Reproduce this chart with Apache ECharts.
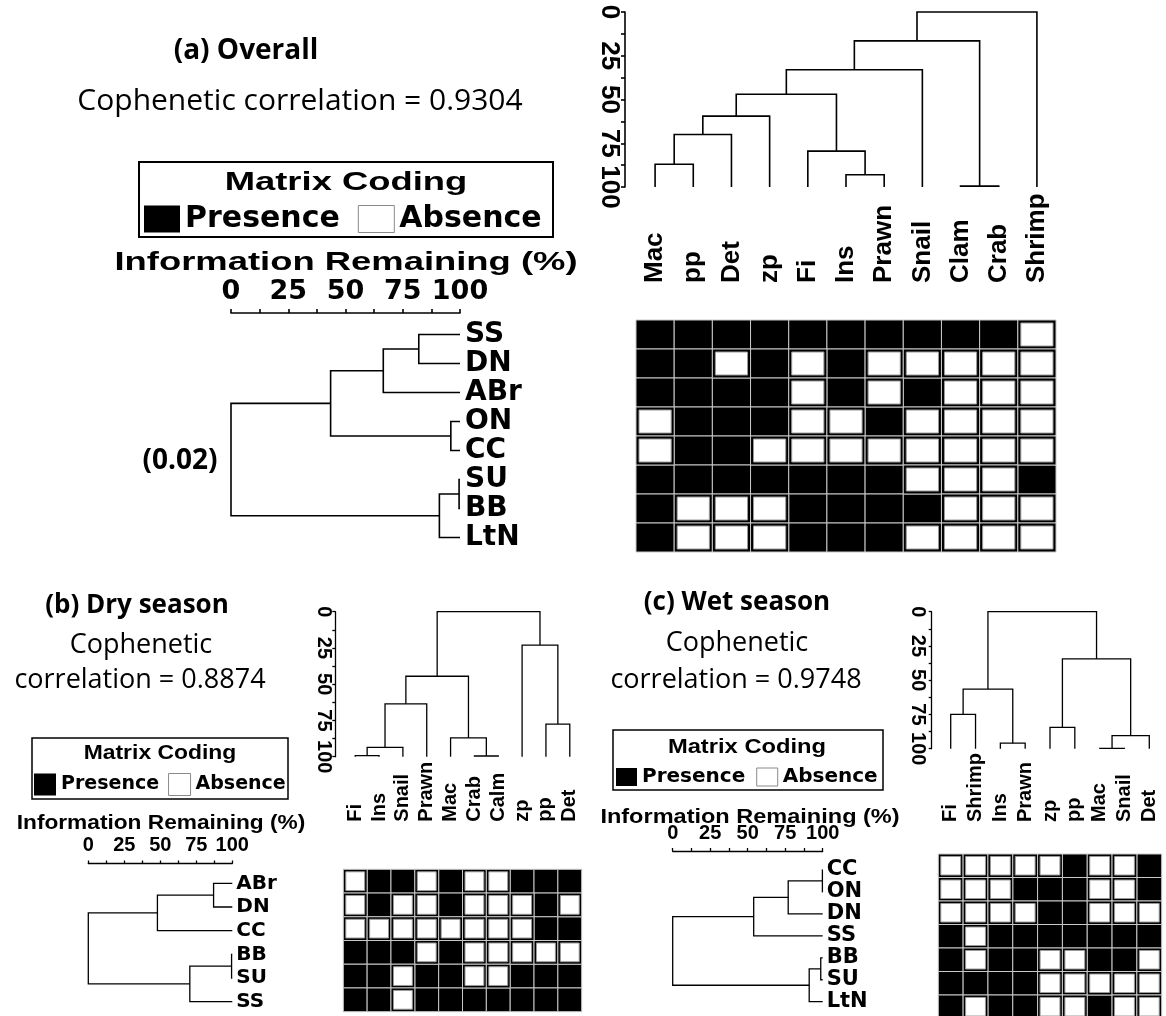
<!DOCTYPE html>
<html>
<head>
<meta charset="utf-8">
<title>Cluster analysis - overall, dry and wet season</title>
<script src="https://cdn.jsdelivr.net/npm/echarts@6.0.0/dist/echarts.min.js"></script>
<style>
html, body {margin: 0; padding: 0; background: #fff;}
#main {width: 1166px; height: 1016px;}
</style>
</head>
<body>
<div id="main"></div>
<script>
// ---- (a) Overall ----
var speciesA = ['Mac', 'pp', 'Det', 'zp', 'Fi', 'Ins', 'Prawn', 'Snail', 'Clam', 'Crab', 'Shrimp'];
var sitesA = ['SS', 'DN', 'ABr', 'ON', 'CC', 'SU', 'BB', 'LtN'];
// merges: a string is a leaf, a number is an earlier merge
var mergeSpeciesA = [['Mac', 'pp'], [0, 'Det'], [1, 'zp'], ['Ins', 'Prawn'], ['Fi', 3], [2, 4], [5, 'Snail'], ['Clam', 'Crab'], [6, 7], [8, 'Shrimp']];
var heightSpeciesA = [87, 70, 59.5, 93, 79.5, 47, 33, 99.5, 16.5, 0];
var mergeSitesA = [['SS', 'DN'], [0, 'ABr'], ['ON', 'CC'], [1, 2], ['SU', 'BB'], [4, 'LtN'], [3, 5]];
var heightSitesA = [82, 66.5, 96, 43.5, 99.6, 91, 0];
var matrixA = [
	[1, 1, 1, 1, 1, 1, 1, 1, 1, 1, 0],
	[1, 1, 0, 1, 0, 1, 0, 0, 0, 0, 0],
	[1, 1, 1, 1, 0, 1, 0, 1, 0, 0, 0],
	[0, 1, 1, 1, 0, 0, 1, 0, 0, 0, 0],
	[0, 1, 1, 0, 0, 0, 0, 0, 0, 0, 0],
	[1, 1, 1, 1, 1, 1, 1, 0, 0, 0, 1],
	[1, 0, 0, 0, 1, 1, 1, 1, 0, 0, 0],
	[1, 0, 0, 0, 1, 1, 1, 0, 0, 0, 0]
];

// ---- (b) Dry season ----
var speciesB = ['Fi', 'Ins', 'Snail', 'Prawn', 'Mac', 'Crab', 'Calm', 'zp', 'pp', 'Det'];
var sitesB = ['ABr', 'DN', 'CC', 'BB', 'SU', 'SS'];
var mergeSpeciesB = [['Fi', 'Ins'], [0, 'Snail'], [1, 'Prawn'], ['Crab', 'Calm'], ['Mac', 3], [2, 4], ['pp', 'Det'], ['zp', 6], [5, 7]];
var heightSpeciesB = [99.3, 93.5, 63.5, 99.5, 87, 44.5, 77.5, 23, 0];
var mergeSitesB = [['ABr', 'DN'], [0, 'CC'], ['BB', 'SU'], [2, 'SS'], [1, 3]];
var heightSitesB = [87, 48, 99.5, 70.5, 0];
var matrixB = [
	[0, 1, 1, 0, 1, 0, 0, 1, 1, 1],
	[0, 1, 0, 0, 1, 0, 0, 0, 1, 0],
	[0, 0, 0, 0, 0, 0, 0, 0, 1, 1],
	[1, 1, 1, 0, 1, 0, 0, 0, 0, 0],
	[1, 1, 0, 1, 1, 0, 0, 1, 1, 1],
	[1, 1, 0, 1, 1, 1, 1, 1, 1, 1]
];

// ---- (c) Wet season ----
var speciesC = ['Fi', 'Shrimp', 'Ins', 'Prawn', 'zp', 'pp', 'Mac', 'Snail', 'Det'];
var sitesC = ['CC', 'ON', 'DN', 'SS', 'BB', 'SU', 'LtN'];
var mergeSpeciesC = [['Fi', 'Shrimp'], ['Ins', 'Prawn'], [0, 1], ['zp', 'pp'], ['Mac', 'Snail'], [4, 'Det'], [3, 5], [2, 6]];
var heightSpeciesC = [75, 96, 56.5, 84.5, 99.8, 90.5, 34.5, 0];
var mergeSitesC = [['CC', 'ON'], [0, 'DN'], [1, 'SS'], ['BB', 'SU'], [3, 'LtN'], [2, 4]];
var heightSitesC = [99.8, 77, 54, 98.7, 91, 0];
var matrixC = [
	[0, 0, 0, 0, 0, 1, 0, 0, 1],
	[0, 0, 0, 1, 1, 1, 0, 0, 1],
	[0, 0, 0, 0, 1, 1, 0, 0, 0],
	[1, 0, 1, 1, 1, 1, 1, 1, 1],
	[1, 0, 1, 1, 0, 0, 1, 1, 0],
	[1, 1, 1, 1, 0, 0, 0, 0, 0],
	[1, 0, 1, 1, 0, 0, 1, 0, 0]
];

var infoTicks = [0, 100, 25]; // min, max, step of "Information Remaining (%)"

var grids = [], xAxes = [], yAxes = [], series = [], legends = [], graphics = [];

// turn merge list into [posLeft, posRight, hLeft, hRight, h] segments
function treeSegments(leaves, merges, heights) {
	var pos = [], segs = [];
	function child(c) {
		if (typeof c === 'string') return {p: leaves.indexOf(c), h: infoTicks[1]};
		return {p: pos[c], h: heights[c]};
	}
	merges.forEach(function (m, i) {
		var a = child(m[0]), b = child(m[1]);
		pos[i] = (a.p + b.p) / 2;
		segs.push([a.p, b.p, a.h, b.h, heights[i]]);
	});
	return segs;
}

function cells(matrix, want) {
	var out = [];
	matrix.forEach(function (row, r) {
		row.forEach(function (v, c) {
			if (v === want) out.push([c, r, v]);
		});
	});
	return out;
}

function text(str, x, y, font, size, weight, sx) {
	graphics.push({
		type: 'text', x: x, y: y, scaleX: sx || 1, silent: true,
		style: {text: str, fontFamily: font, fontSize: size, fontWeight: weight || 'normal', fill: '#000', align: 'center', verticalAlign: 'middle'}
	});
}

function infoAxis(gridIndex, pos, o) {
	return {
		type: 'value', gridIndex: gridIndex, position: pos, offset: o.offset,
		min: infoTicks[0], max: infoTicks[1], interval: infoTicks[2], inverse: pos === 'left',
		axisLine: {show: true, onZero: false, lineStyle: {color: '#000', width: o.lw}},
		axisTick: {show: true, length: o.tick, lineStyle: {color: '#000', width: o.lw}},
		minorTick: {show: true, splitNumber: 2, length: o.tick, lineStyle: {color: '#000', width: o.lw}},
		splitLine: {show: false},
		axisLabel: {
			rotate: pos === 'left' ? -90 : 0, margin: o.margin, color: '#000',
			showMinLabel: true, showMaxLabel: true, hideOverlap: false,
			fontFamily: o.font, fontWeight: 'bold', fontSize: o.size
		}
	};
}

function addPanel(p) {
	var g = grids.length, xi = xAxes.length, yi = yAxes.length;
	var nS = p.species.length, nR = p.sites.length;
	grids.push({left: p.top.left, top: p.top.top, width: p.top.width, height: p.top.height, outerBoundsMode: 'none'});
	grids.push({left: p.top.left, top: p.mat.top, width: p.top.width, height: p.mat.height, outerBoundsMode: 'none'});
	grids.push({left: p.side.left, top: p.side.top, width: p.side.width, height: p.side.height, outerBoundsMode: 'none'});

	// species dendrogram
	xAxes.push({type: 'value', gridIndex: g, min: -0.5, max: nS - 0.5, show: false});
	yAxes.push(infoAxis(g, 'left', p.top.axis));
	// matrix
	xAxes.push({
		type: 'category', gridIndex: g + 1, position: 'top', data: p.species,
		axisLine: {show: false}, axisTick: {show: false},
		axisLabel: {interval: 0, rotate: -90, margin: p.mat.margin, color: '#000', fontFamily: 'Liberation Sans', fontWeight: 'bold', fontSize: p.mat.size}
	});
	yAxes.push({type: 'category', gridIndex: g + 1, inverse: true, data: p.sites, show: false});
	// site dendrogram
	xAxes.push(infoAxis(g + 2, 'top', p.side.axis));
	yAxes.push({type: 'value', gridIndex: g + 2, min: -0.5, max: nR - 0.5, inverse: true, show: false});
	yAxes.push({
		type: 'category', gridIndex: g + 2, position: 'right', inverse: true, data: p.sites,
		axisLine: {show: false}, axisTick: {show: false},
		axisLabel: {interval: 0, margin: p.side.margin, color: '#000', fontFamily: 'DejaVu Sans', fontWeight: 'bold', fontSize: p.side.size}
	});

	var lw = p.lw;
	series.push({
		type: 'custom', xAxisIndex: xi, yAxisIndex: yi, silent: true,
		data: treeSegments(p.species, p.mergeSpecies, p.heightSpecies),
		renderItem: function (params, api) {
			var pts = [
				api.coord([api.value(0), api.value(2)]), api.coord([api.value(0), api.value(4)]),
				api.coord([api.value(1), api.value(4)]), api.coord([api.value(1), api.value(3)])
			];
			return {type: 'polyline', shape: {points: pts}, style: {stroke: '#000', lineWidth: lw, fill: 'none'}};
		}
	});
	series.push({
		type: 'custom', xAxisIndex: xi + 2, yAxisIndex: yi + 2, silent: true,
		data: treeSegments(p.sites, p.mergeSites, p.heightSites),
		renderItem: function (params, api) {
			var pts = [
				api.coord([api.value(2), api.value(0)]), api.coord([api.value(4), api.value(0)]),
				api.coord([api.value(4), api.value(1)]), api.coord([api.value(3), api.value(1)])
			];
			return {type: 'polyline', shape: {points: pts}, style: {stroke: '#000', lineWidth: lw, fill: 'none'}};
		}
	});
	var inset = p.inset;
	var cellRender = function (params, api) {
		var c = api.coord([api.value(0), api.value(1)]);
		var s = api.size([1, 1]);
		var x = c[0] - s[0] / 2, y = c[1] - s[1] / 2;
		var kids = [{type: 'rect', shape: {x: x, y: y, width: s[0], height: s[1]}, style: {fill: '#000', stroke: '#c8c8c8', lineWidth: 1}}];
		if (api.value(2) === 0) {
			kids.push({type: 'rect', shape: {x: x + inset, y: y + inset, width: s[0] - 2 * inset, height: s[1] - 2 * inset}, style: {fill: '#fff', stroke: '#9a9a9a', lineWidth: 1}});
		}
		return {type: 'group', children: kids};
	};
	series.push({name: 'Presence', type: 'custom', xAxisIndex: xi + 1, yAxisIndex: yi + 1, silent: true, itemStyle: {color: '#000'}, data: cells(p.matrix, 1), renderItem: cellRender});
	series.push({name: 'Absence', type: 'custom', xAxisIndex: xi + 1, yAxisIndex: yi + 1, silent: true, itemStyle: {color: '#fff'}, data: cells(p.matrix, 0), renderItem: cellRender});

	// matrix coding legend
	var L = p.legend;
	graphics.push({type: 'rect', silent: true, shape: {x: L.box[0], y: L.box[1], width: L.box[2], height: L.box[3]}, style: {fill: 'none', stroke: '#000', lineWidth: L.bw}});
	text('Matrix Coding', L.title[0], L.title[1], 'Liberation Sans', L.title[2], 'bold', L.title[3]);
	legends.push({
		left: L.left, top: L.top, padding: 0, itemGap: L.gap, itemWidth: L.iw, itemHeight: L.ih, selectedMode: false,
		textStyle: {color: '#000', fontFamily: 'DejaVu Sans', fontWeight: 'bold', fontSize: L.size, lineHeight: L.ih},
		data: [
			{name: 'Presence', icon: 'rect', itemStyle: {color: '#000', borderWidth: 0}},
			{name: 'Absence', icon: 'rect', itemStyle: {color: '#fff', borderColor: '#8a8a8a', borderWidth: 1}}
		]
	});
	text('Information Remaining (%)', p.info[0], p.info[1], 'Liberation Sans', p.info[2], 'bold', p.info[3]);
}

addPanel({
	species: speciesA, sites: sitesA, matrix: matrixA,
	mergeSpecies: mergeSpeciesA, heightSpecies: heightSpeciesA, mergeSites: mergeSitesA, heightSites: heightSitesA,
	lw: 1.6, inset: 3,
	top: {left: 636, top: 12, width: 420, height: 175, axis: {offset: 11, lw: 1.6, tick: 4, margin: 3, font: 'Liberation Sans', size: 26}},
	mat: {top: 320, height: 232, margin: 37, size: 26},
	side: {left: 231, top: 320, width: 229, height: 232, margin: 5, size: 28, axis: {offset: 7, lw: 1.6, tick: 4, margin: 8, font: 'DejaVu Sans', size: 27}},
	legend: {box: [139, 162, 414, 75], bw: 2, title: [346, 183, 26, 1.4], left: 144, top: 204, gap: 18, iw: 36, ih: 27, size: 30},
	info: [346, 263, 26, 1.4]
});
addPanel({
	species: speciesB, sites: sitesB, matrix: matrixB,
	mergeSpecies: mergeSpeciesB, heightSpecies: heightSpeciesB, mergeSites: mergeSitesB, heightSites: heightSitesB,
	lw: 1.3, inset: 2.5,
	top: {left: 343.3, top: 611.7, width: 238.4, height: 145, axis: {offset: 8, lw: 1.3, tick: 3, margin: 2, font: 'Liberation Sans', size: 20}},
	mat: {top: 869.3, height: 142.4, margin: 47.6, size: 20},
	side: {left: 88.3, top: 871.5, width: 144, height: 142, margin: 4, size: 20, axis: {offset: 8, lw: 1.3, tick: 3, margin: 8, font: 'Liberation Sans', size: 20}},
	legend: {box: [32, 738, 256, 61], bw: 1.5, title: [160, 753, 21, 1.09], left: 34, top: 773, gap: 9, iw: 22, ih: 22, size: 19},
	info: [161, 823, 21, 1.08]
});
addPanel({
	species: speciesC, sites: sitesC, matrix: matrixC,
	mergeSpecies: mergeSpeciesC, heightSpecies: heightSpeciesC, mergeSites: mergeSitesC, heightSites: heightSitesC,
	lw: 1.3, inset: 2.5,
	top: {left: 938.3, top: 611.7, width: 223.4, height: 137, axis: {offset: 6.6, lw: 1.3, tick: 3, margin: 4, font: 'Liberation Sans', size: 20}},
	mat: {top: 854, height: 164.5, margin: 32, size: 20},
	side: {left: 672.7, top: 859, width: 150, height: 153.7, margin: 4, size: 21, axis: {offset: 8, lw: 1.3, tick: 3, margin: 8, font: 'Liberation Sans', size: 20}},
	legend: {box: [613, 730, 270, 60], bw: 1.5, title: [747, 747, 21, 1.13], left: 616, top: 767, gap: 11, iw: 21, ih: 18, size: 20},
	info: [750, 817, 21, 1.12]
});

// panel titles
text('(a) Overall', 246, 51, 'Open Sans', 28, 'bold');
text('Cophenetic correlation = 0.9304', 300, 101, 'Open Sans', 30);
text('(0.02)', 180, 461, 'Open Sans', 28, 'bold');
text('(b) Dry season', 137, 606, 'Open Sans', 26, 'bold');
text('Cophenetic', 141, 645, 'Open Sans', 27);
text('correlation = 0.8874', 140, 680, 'Open Sans', 27);
text('(c) Wet season', 737, 603, 'Open Sans', 26, 'bold');
text('Cophenetic', 737, 643, 'Open Sans', 27);
text('correlation = 0.9748', 736, 680, 'Open Sans', 27);

var chart = echarts.init(document.getElementById('main'));
chart.setOption({
	animation: false,
	backgroundColor: '#fff',
	grid: grids,
	xAxis: xAxes,
	yAxis: yAxes,
	legend: legends,
	graphic: graphics,
	series: series
});
window.addEventListener('resize', chart.resize);
</script>
</body>
</html>
